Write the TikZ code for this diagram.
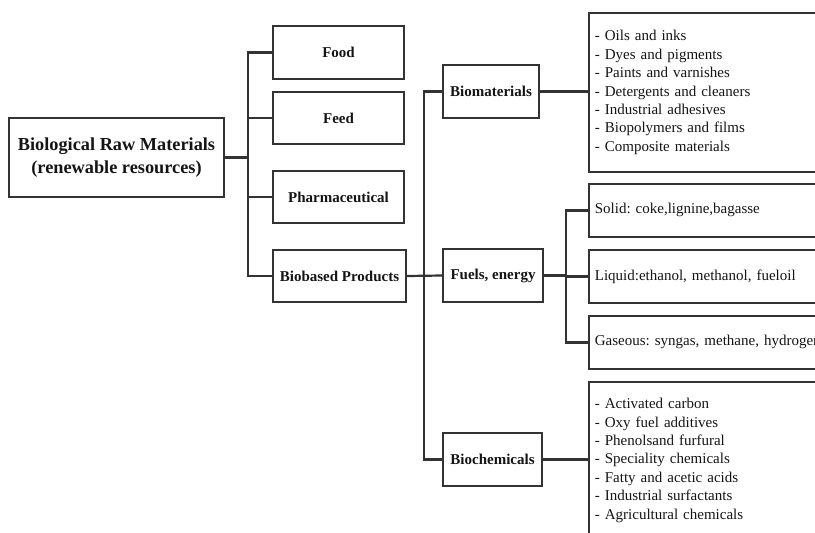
\documentclass[tikz,border=0pt]{standalone}
\usepackage{fontspec}
\setmainfont{Liberation Serif}
\frenchspacing
\definecolor{linegray}{gray}{0.2}
\definecolor{inkgray}{gray}{0.08}
\begin{document}
\begin{tikzpicture}[x=1pt,y=-1pt,
  box/.style={draw=linegray, line width=1.8pt, rectangle, inner sep=0pt, text=inkgray},
  labelbox/.style={box, font=\bfseries\fontsize{15}{18}\selectfont, minimum height=53pt},
  listbox/.style={box, anchor=north west, align=left, inner xsep=6pt,
    text width=236pt, minimum width=248pt, font=\fontsize{15}{18.35}\selectfont},
  link/.style={draw=linegray, line width=2.2pt}
]
\useasboundingbox (0,0) rectangle (815,533);
\clip (0,0) rectangle (815,533);

% root of the tree
\node[box, minimum width=215pt, minimum height=79pt, align=center,
      font=\bfseries\fontsize{18.3}{23}\selectfont] (root) at (116.5,157.5)
  {Biological Raw Materials\\(renewable resources)};

% first level
\node[labelbox, minimum width=131pt] (food)     at (338.5,52.5)  {Food};
\node[labelbox, minimum width=131pt, minimum height=52pt] (feed) at (338.5,118) {Feed};
\node[labelbox, minimum width=131pt, minimum height=52pt] (pharm) at (338.5,197) {Pharmaceutical};
\node[labelbox, minimum width=133pt, minimum height=52pt] (biobased) at (339.5,276) {Biobased Products};

% second level
\node[labelbox, minimum width=96pt]  (biomat)  at (491,91.5)   {Biomaterials};
\node[labelbox, minimum width=100pt] (fuels)   at (493,275.5)  {Fuels, energy};
\node[labelbox, minimum width=99pt]  (biochem) at (492.5,459.5) {Biochemicals};

% third level
\node[listbox, minimum height=159pt] (matlist) at (588,12)
  {- Oils and inks\\- Dyes and pigments\\- Paints and varnishes\\- Detergents and cleaners\\
   - Industrial adhesives\\- Biopolymers and films\\- Composite materials};
\node[listbox, minimum height=53pt] (solid)  at (588,183) {Solid: coke,lignine,bagasse};
\node[listbox, minimum height=53pt] (liquid) at (588,249) {Liquid:ethanol, methanol, fueloil};
\node[listbox, minimum height=53pt] (gas)    at (588,315) {Gaseous: syngas, methane, hydrogen};
\node[listbox, minimum height=157pt] (chemlist) at (588,381)
  {- Activated carbon\\- Oxy fuel additives\\- Phenolsand furfural\\- Speciality chemicals\\
   - Fatty and acetic acids\\- Industrial surfactants\\- Agricultural chemicals};

% bus lines
\coordinate (busA) at (248,0);
\coordinate (busB) at (424,0);
\coordinate (busC) at (566,0);

% root to first level
\draw[link] (root.east) -- (root.east -| busA);
\draw[link] (food.west) -- (food.west -| busA) |- (biobased.west);
\draw[link] (feed.west) -- (feed.west -| busA);
\draw[link] (pharm.west) -- (pharm.west -| busA);

% biobased products to second level
\draw[link] (biobased.east) -- (fuels.west);
\draw[link] (biomat.west) -- (biomat.west -| busB) |- (biochem.west);

% second level to third level
\draw[link] (biomat.east) -- (matlist.west |- biomat.east);
\draw[link] (biochem.east) -- (chemlist.west |- biochem.east);
\draw[link] (fuels.east) -- (fuels.east -| busC);
\draw[link] (solid.west) -- (solid.west -| busC) |- (gas.west);
\draw[link] (liquid.west) -- (liquid.west -| busC);
\end{tikzpicture}
\end{document}
